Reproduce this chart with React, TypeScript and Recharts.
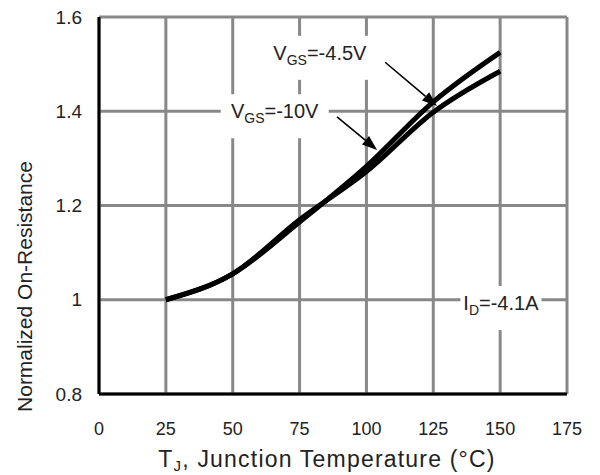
import {
  CartesianGrid,
  Label,
  Line,
  LineChart,
  ReferenceDot,
  ReferenceLine,
  XAxis,
  YAxis,
} from "recharts";

const temps = [25, 50, 75, 100, 125, 150];
const vgs45 = [1.0, 1.055, 1.165, 1.283, 1.42, 1.525];
const vgs10 = [1.0, 1.055, 1.17, 1.272, 1.398, 1.485];
const xTicks = [0, 25, 50, 75, 100, 125, 150, 175];
const yTicks = [0.8, 1, 1.2, 1.4, 1.6];

const data = temps.map((t, i) => ({ t, vgs45: vgs45[i], vgs10: vgs10[i] }));

// callout texts, anchored in data units
const notes = [
  { x: 82.6, y: 1.524, main: "V", sub: "GS", tail: "=-4.5V", w: 104 },
  { x: 65.7, y: 1.4, main: "V", sub: "GS", tail: "=-10V", w: 108 },
  { x: 150.3, y: 0.993, main: "I", sub: "D", tail: "=-4.1A", w: 81 },
];
const arrows = [
  { from: [107, 1.504], to: [126.4, 1.411] },
  { from: [89, 1.388], to: [104, 1.318] },
];

const FONT = "'Liberation Sans', Arial, sans-serif";
const GRID = "#888888";

const Arrow = (props: any) => {
  const { x1, y1, x2, y2 } = props;
  const a = Math.atan2(y2 - y1, x2 - x1);
  const len = 15;
  const half = 5.5;
  const bx = x2 - len * Math.cos(a);
  const by = y2 - len * Math.sin(a);
  const px = half * Math.sin(a);
  const py = -half * Math.cos(a);
  return (
    <g>
      <line x1={x1} y1={y1} x2={bx} y2={by} stroke="#000" strokeWidth={1.6} />
      <polygon
        points={`${x2},${y2} ${bx + px},${by + py} ${bx - px},${by - py}`}
        fill="#000"
      />
    </g>
  );
};

const noteShape = (n: (typeof notes)[number]) => (props: any) => {
  const { cx, cy } = props;
  return (
    <g>
      <rect x={cx - n.w / 2} y={cy - 17} width={n.w} height={44} fill="#fff" />
      <text
        x={cx}
        y={cy + 7}
        textAnchor="middle"
        fontFamily={FONT}
        fontSize={20}
        fill="#222"
      >
        <tspan>{n.main}</tspan>
        <tspan dy={5} fontSize={14}>
          {n.sub}
        </tspan>
        <tspan dy={-5}>{n.tail}</tspan>
      </text>
    </g>
  );
};

const YTitle = (props: any) => {
  const vb = props.viewBox;
  const cy = vb.y + vb.height / 2 + 81;
  return (
    <text
      x={24}
      y={cy}
      transform={`rotate(-90, 24, ${cy})`}
      textAnchor="middle"
      dominantBaseline="central"
      fontFamily={FONT}
      fontSize={21}
      fill="#222"
    >
      Normalized On-Resistance
    </text>
  );
};

const XTitle = (props: any) => {
  const vb = props.viewBox;
  const cx = vb.x + vb.width / 2 - 6;
  return (
    <text
      x={cx}
      y={467}
      textAnchor="middle"
      fontFamily={FONT}
      fontSize={23}
      letterSpacing={1.2}
      fill="#222"
    >
      <tspan>T</tspan>
      <tspan dy={4} fontSize={15}>
        J
      </tspan>
      <tspan dy={-4}>, Junction Temperature (°C)</tspan>
    </text>
  );
};

export default function App() {
  return (
    <div style={{ position: "absolute", left: 0, top: 0, background: "#fff" }}>
      <LineChart
        width={600}
        height={475}
        data={data}
        margin={{ top: 17, right: 33, bottom: 0, left: 0 }}
      >
        <CartesianGrid stroke={GRID} strokeWidth={3} />
        <XAxis
          dataKey="t"
          type="number"
          domain={[0, 175]}
          ticks={xTicks}
          height={81}
          tickSize={0}
          tickMargin={28}
          axisLine={{ stroke: "#000", strokeWidth: 3 }}
          tick={{ fill: "#222", fontSize: 18, fontFamily: FONT }}
        >
          <Label content={XTitle} />
        </XAxis>
        <YAxis
          type="number"
          domain={[0.8, 1.6]}
          ticks={yTicks}
          width={99}
          tickSize={0}
          tickMargin={17}
          axisLine={{ stroke: "#000", strokeWidth: 3 }}
          tick={{ fill: "#222", fontSize: 19, fontFamily: FONT }}
        >
          <Label content={YTitle} />
        </YAxis>
        {notes.map((n, i) => (
          <ReferenceDot key={`n${i}`} x={n.x} y={n.y} r={0} shape={noteShape(n)} />
        ))}
        {arrows.map((a, i) => (
          <ReferenceLine
            key={`a${i}`}
            segment={[
              { x: a.from[0], y: a.from[1] },
              { x: a.to[0], y: a.to[1] },
            ]}
            shape={Arrow}
          />
        ))}
        <Line
          type="monotone"
          dataKey="vgs45"
          stroke="#000"
          strokeWidth={5}
          dot={false}
          isAnimationActive={false}
        />
        <Line
          type="monotone"
          dataKey="vgs10"
          stroke="#000"
          strokeWidth={5}
          dot={false}
          isAnimationActive={false}
        />
      </LineChart>
    </div>
  );
}
